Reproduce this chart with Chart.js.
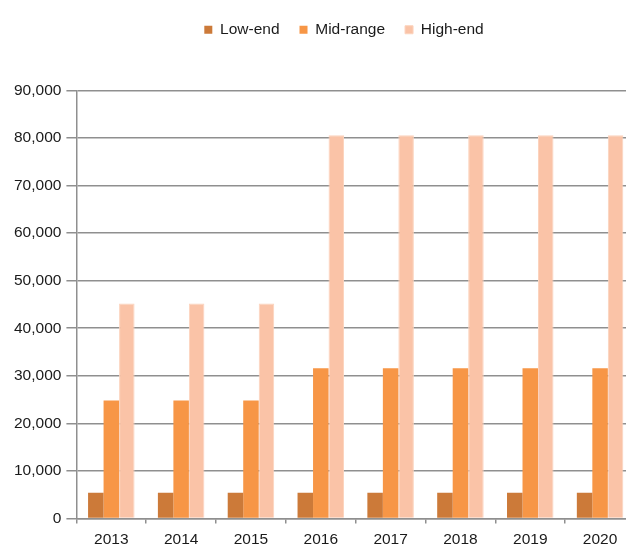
<!DOCTYPE html>
<html>
<head>
<meta charset="utf-8">
<script src="https://cdn.jsdelivr.net/npm/chart.js@4"></script>
<style>
  html, body { margin: 0; padding: 0; overflow: hidden; background: #fff; }
  #wrap { width: 640px; height: 546px; }
</style>
</head>
<body>
<div id="wrap"><canvas id="myChart"></canvas></div>
<script>
const years = ["2013", "2014", "2015", "2016", "2017", "2018", "2019", "2020"];
const lowEnd = [5400, 5400, 5400, 5400, 5400, 5400, 5400, 5400];
const midRange = [24800, 24800, 24800, 31600, 31600, 31600, 31600, 31600];
const highEnd = [45200, 45200, 45200, 80600, 80600, 80600, 80600, 80600];

const gridGray = "#8f8f8f";
const textColor = "#1a1a1a";
const fontFamily = "'Liberation Sans', Arial, sans-serif";

// leaves a gap between the legend row and the plot, and nudges the row right
const legendGap = {
  id: "legendGap",
  beforeInit(chart) {
    const originalFit = chart.legend.fit;
    chart.legend.fit = function fit() {
      originalFit.bind(chart.legend)();
      this.height += 43;
    };
  },
  afterLayout(chart) {
    chart.legend.left += 22;
    chart.legend.right += 22;
  },
};

const initiateChart = () => {
  const ctx = document.getElementById("myChart");
  const Data = {
    labels: years,
    datasets: [
      { label: "Low-end", backgroundColor: "#cc7a39", data: lowEnd },
      { label: "Mid-range", backgroundColor: "#f79646", data: midRange },
      {
        label: "High-end",
        backgroundColor: "#fac3a7",
        borderColor: "#fcd3bd",
        borderWidth: 1,
        data: highEnd,
      },
    ],
  };
  const Config = {
    type: "bar",
    data: Data,
    plugins: [legendGap],
    options: {
      responsive: true,
      maintainAspectRatio: false,
      animation: false,
      categoryPercentage: 0.666,
      barPercentage: 1.0,
      layout: { padding: { left: 9, right: 5, top: 2, bottom: -10 } },
      plugins: {
        tooltip: { enabled: false },
        legend: {
          position: "top",
          labels: {
            boxWidth: 8,
            boxHeight: 8,
            padding: 20,
            color: textColor,
            font: { family: fontFamily, size: 15.5 },
          },
        },
      },
      scales: {
        x: {
          grid: {
            offset: true,
            drawOnChartArea: false,
            drawTicks: true,
            tickLength: 5,
            color: gridGray,
            lineWidth: 1.5,
          },
          border: { color: gridGray, width: 1.5 },
          ticks: {
            color: textColor,
            padding: 7,
            font: { family: fontFamily, size: 15.5 },
          },
        },
        y: {
          min: 0,
          max: 90000,
          ticks: {
            stepSize: 10000,
            color: textColor,
            padding: 5,
            font: { family: fontFamily, size: 15.5 },
            callback: (v) => v.toLocaleString("en-US"),
          },
          grid: {
            color: gridGray,
            lineWidth: 1.5,
            tickLength: 10,
          },
          border: { color: gridGray, width: 1.5 },
        },
      },
    },
  };
  new Chart(ctx, Config);
};

initiateChart();
</script>
</body>
</html>
